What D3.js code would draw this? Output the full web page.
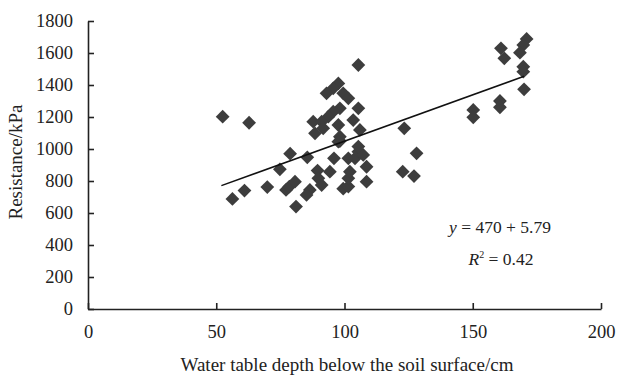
<!DOCTYPE html>
<html><head><meta charset="utf-8">
<script src="https://cdn.jsdelivr.net/npm/d3@7"></script>
<style>body{margin:0;background:#fff}svg{display:block}</style>
</head><body>
<svg id="c" width="622" height="379"></svg>
<script>
const depth = [52.5,62.8,56.3,61,69.9,74.8,78.8,85.5,77.2,78.5,80.7,81.1,
 86.5,85.2,89.5,89.8,91.1,94.3,95.9,99.5,101.5,101.5,102.1,101.5,104.1,105.4,107.3,108.6,108.6,98.2,
 105.4,97.6,95.6,93,99.5,101.5,105.4,98.2,95.6,93.7,103.4,87.8,91.1,91.7,88.5,97.6,98.2,106,97.6,105.4,
 123.3,128.1,122.7,127.1,150.2,150.2,160.6,160.6,161,162.3,171,169.7,168.4,169.7,169.7,170];
const resistance = [1202,1164,688,740,762,873,971,948,744,765,796,640,
 744,713,865,817,775,858,942,752,765,817,858,942,942,983,963,889,796,1050,
 1525,1410,1379,1348,1348,1317,1254,1254,1233,1202,1181,1171,1171,1129,1098,1150,1077,1119,1046,1015,
 1129,973,858,831,1244,1198,1300,1261,1629,1567,1688,1650,1602,1514,1483,1373];
const xTicks = [0,50,100,150,200];
const yTicks = [0,200,400,600,800,1000,1200,1400,1600,1800];
const fitIntercept = 470, fitSlope = 5.79, fitRange = [52,170];
const eqText = "470 + 5.79", r2Text = "0.42";
const xTitle = "Water table depth below the soil surface/cm";
const yTitle = "Resistance/kPa";

const svg = d3.select("#c");
const font = "Liberation Serif, Times New Roman, serif";
const x = d3.scaleLinear().domain([0,200]).range([88,601]);
const y = d3.scaleLinear().domain([0,1800]).range([309,21]);
const axisColor = "#222";

const xa = svg.append("g").attr("transform","translate(0,309)")
  .call(d3.axisBottom(x).tickValues(xTicks).tickFormat(d3.format("d")).tickSizeInner(-6).tickSizeOuter(0).tickPadding(16));
const ya = svg.append("g").attr("transform","translate(88,0)")
  .call(d3.axisLeft(y).tickValues(yTicks).tickFormat(d3.format("d")).tickSizeInner(-6).tickSizeOuter(0).tickPadding(15));
[xa,ya].forEach(a=>{
  a.selectAll("path,line").attr("stroke",axisColor).attr("stroke-width",1.6);
  a.selectAll("text").attr("font-family",font).attr("font-size",18.5).attr("fill","#222");
});

// points
const sym = d3.symbol().type(d3.symbolSquare).size(95);
svg.append("g").selectAll("path").data(depth.map((d,i)=>[d,resistance[i]])).join("path")
  .attr("d",sym).attr("fill","#3d3d3d")
  .attr("transform",d=>`translate(${x(d[0])},${y(d[1])}) rotate(45)`);

// trend line
svg.append("line")
  .attr("x1",x(fitRange[0])).attr("y1",y(fitIntercept+fitSlope*fitRange[0]))
  .attr("x2",x(fitRange[1])).attr("y2",y(fitIntercept+fitSlope*fitRange[1]))
  .attr("stroke","#111").attr("stroke-width",1.5);

// equation
const eq = svg.append("text").attr("x",500).attr("y",233).attr("text-anchor","middle")
  .attr("font-family",font).attr("font-size",17.5).attr("fill","#222");
eq.append("tspan").attr("font-style","italic").text("y");
eq.append("tspan").text(" = " + eqText);
const r2 = svg.append("text").attr("x",501).attr("y",265).attr("text-anchor","middle")
  .attr("font-family",font).attr("font-size",17.5).attr("fill","#222");
r2.append("tspan").attr("font-style","italic").text("R");
r2.append("tspan").attr("font-size",10).attr("dy",-7).text("2");
r2.append("tspan").attr("dy",7).text(" = " + r2Text);

// titles
svg.append("text").attr("x",347).attr("y",371).attr("text-anchor","middle")
  .attr("font-family",font).attr("font-size",19).attr("fill","#222").text(xTitle);
svg.append("text").attr("transform","translate(22,162) rotate(-90)").attr("text-anchor","middle")
  .attr("font-family",font).attr("font-size",19).attr("fill","#222").text(yTitle);
</script>
</body></html>
